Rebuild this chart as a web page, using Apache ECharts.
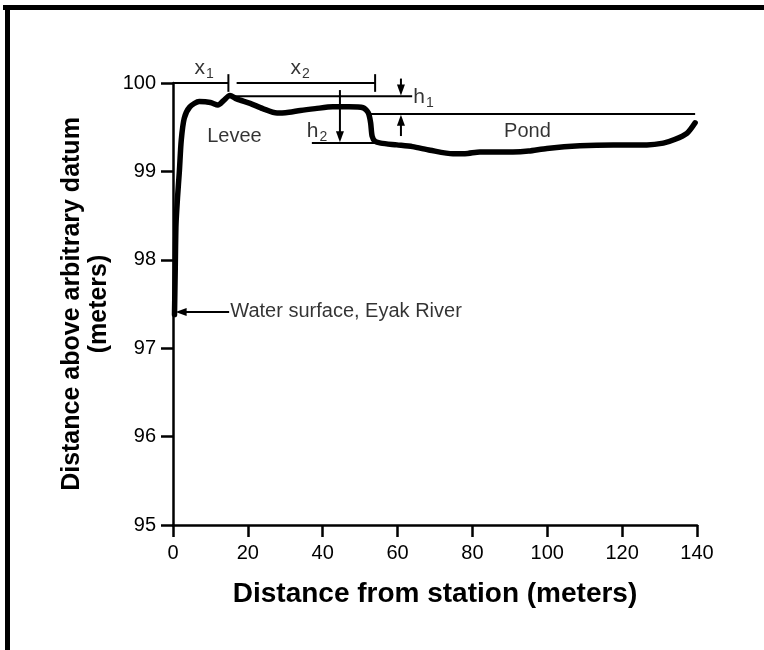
<!DOCTYPE html>
<html>
<head>
<meta charset="utf-8">
<script src="https://cdn.jsdelivr.net/npm/echarts@6/dist/echarts.min.js"></script>
<style>
html,body{margin:0;padding:0;background:#fff;}
#chart{width:764px;height:650px;}
</style>
</head>
<body>
<div id="chart"></div>
<script>
// Profile across the levee (station distance in m, elevation in m)
const stationM = [0.4, 0.6, 0.8, 1.2, 1.7, 2.2, 3.0, 4.5, 7, 10, 12, 13.5, 15.2, 17, 20.6, 24, 27.8, 31, 34, 38, 42.7, 47, 50.8, 52.2, 52.8, 53.2, 54, 55.5, 59.8, 64, 68.7, 74.8, 78, 82, 90.8, 95, 99.9, 108.7, 117.6, 126.6, 131, 134, 137.3, 139.5];
const elevationM = [97.38, 97.9, 98.4, 98.7, 99.0, 99.35, 99.6, 99.73, 99.79, 99.78, 99.75, 99.8, 99.86, 99.82, 99.77, 99.71, 99.66, 99.67, 99.69, 99.71, 99.73, 99.73, 99.72, 99.66, 99.55, 99.40, 99.34, 99.32, 99.30, 99.28, 99.24, 99.20, 99.20, 99.22, 99.22, 99.23, 99.26, 99.29, 99.30, 99.30, 99.32, 99.36, 99.43, 99.55];

// Axis scales
const xMin = 0, xMax = 140, xStep = 20;
const yMin = 95, yMax = 100, yStep = 1;

// Dimension lines [xStart, yStart, xEnd, yEnd]
const dimSegments = [
  [0, 100, 14.8, 100],        // x1
  [14.8, 100.1, 14.8, 99.9],  // x1 end tick
  [17.0, 100, 54.0, 100],     // x2
  [54.0, 100.1, 54.0, 99.9],  // x2 end tick
  [15.5, 99.85, 63.9, 99.85], // h1 reference (levee top)
  [52.6, 99.65, 139.5, 99.65],// pond level
  [37.1, 99.32, 54.0, 99.32], // h2 base
  [44.6, 99.92, 44.6, 99.85]  // small tick above h2 arrow
];
// Arrows [xStart, yStart, xEnd(head), yEnd(head)]
const arrowSegments = [
  [60.9, 100.05, 60.9, 99.86],  // h1 down
  [60.9, 99.40, 60.9, 99.64],   // pond up
  [44.6, 99.86, 44.6, 99.33],   // h2 down
  [15.0, 97.41, 0.7, 97.41]     // water surface
];
// Annotation texts
const labelText = ['{v|x}{s|1}', '{v|x}{s|2}', '{v|h}{s|1}', '{v|h}{s|2}', 'Levee', 'Pond', 'Water surface, Eyak River'];
const labelX = [8.3, 34.0, 64.2, 38.5, 16.4, 94.7, 15.3];
const labelY = [100.17, 100.17, 99.84, 99.45, 99.40, 99.45, 97.42];
const labelAlign = ['center', 'center', 'left', 'center', 'center', 'center', 'left'];

const chart = echarts.init(document.getElementById('chart'), null, {renderer: 'canvas'});
const FONT = '"Liberation Sans", Arial, Helvetica, sans-serif';

const annData = dimSegments.map(s => [s[0], s[1], s[2], s[3], 0])
  .concat(arrowSegments.map(s => [s[0], s[1], s[2], s[3], 1]));

function renderAnnotation(params, api) {
  const p1 = api.coord([api.value(0), api.value(1)]);
  const p2 = api.coord([api.value(2), api.value(3)]);
  const hasArrow = api.value(4) === 1;
  const children = [];
  let end = p2;
  if (hasArrow) {
    const dx = p2[0] - p1[0], dy = p2[1] - p1[1];
    const len = Math.sqrt(dx * dx + dy * dy) || 1;
    const ux = dx / len, uy = dy / len;
    const hl = 11, hw = 4;
    const bx = p2[0] - ux * hl, by = p2[1] - uy * hl;
    end = [p2[0] - ux * (hl - 2), p2[1] - uy * (hl - 2)];
    children.push({
      type: 'polygon',
      shape: {points: [p2, [bx - uy * hw, by + ux * hw], [bx + uy * hw, by - ux * hw]]},
      style: {fill: '#000'}
    });
  }
  children.push({
    type: 'line',
    shape: {x1: p1[0], y1: p1[1], x2: end[0], y2: end[1]},
    style: {stroke: '#000', lineWidth: 2}
  });
  return {type: 'group', children: children};
}

const option = {
  animation: false,
  backgroundColor: '#fff',
  grid: {left: 173, right: 67, top: 83, bottom: 125, containLabel: false},
  xAxis: {
    type: 'value', min: xMin, max: xMax, interval: xStep,
    name: 'Distance from station (meters)',
    nameLocation: 'middle', nameGap: 55,
    nameTextStyle: {fontFamily: FONT, fontWeight: 'bold', fontSize: 28, color: '#000'},
    axisLine: {show: true, lineStyle: {color: '#000', width: 2.5}},
    axisTick: {show: true, length: 12, lineStyle: {color: '#000', width: 2.5}},
    axisLabel: {fontFamily: FONT, fontSize: 20, color: '#000', margin: 18},
    splitLine: {show: false}
  },
  yAxis: {
    type: 'value', min: yMin, max: yMax, interval: yStep,
    name: '{a|Distance above arbitrary datum}\n{b|(meters)}',
    nameLocation: 'middle', nameGap: 54, nameRotate: 90,
    nameTextStyle: {
      fontFamily: FONT, fontWeight: 'bold', color: '#000',
      rich: {
        a: {fontFamily: FONT, fontWeight: 'bold', fontSize: 25, color: '#000', lineHeight: 27},
        b: {fontFamily: FONT, fontWeight: 'bold', fontSize: 25, color: '#000', lineHeight: 27}
      }
    },
    axisLine: {show: true, lineStyle: {color: '#000', width: 2.5}},
    axisTick: {show: true, length: 12, lineStyle: {color: '#000', width: 2.5}},
    axisLabel: {fontFamily: FONT, fontSize: 20, color: '#000', margin: 17},
    splitLine: {show: false}
  },
  graphic: [
    {type: 'rect', shape: {x: 3, y: 5, width: 761, height: 5}, style: {fill: '#000'}, silent: true},
    {type: 'rect', shape: {x: 5, y: 5, width: 5, height: 645}, style: {fill: '#000'}, silent: true}
  ],
  series: [
    {
      type: 'line',
      data: stationM.map((x, i) => [x, elevationM[i]]),
      smooth: 0.25,
      showSymbol: false,
      lineStyle: {color: '#000', width: 5.5, join: 'round', cap: 'round'},
      z: 3
    },
    {
      type: 'custom', silent: true, clip: false,
      renderItem: renderAnnotation,
      encode: {x: [0, 2], y: [1, 3]},
      data: annData,
      z: 4
    },
    {
      type: 'scatter', silent: true, symbolSize: 0, clip: false,
      data: labelText.map((t, i) => ({
        value: [labelX[i], labelY[i]],
        label: {
          show: true, position: 'inside', align: labelAlign[i], verticalAlign: 'middle',
          formatter: t, fontFamily: FONT, fontSize: 20, color: '#000',
          rich: {
            v: {fontFamily: FONT, fontSize: 21, color: '#000'},
            s: {fontFamily: FONT, fontSize: 14, color: '#000', padding: [12, 0, 0, 1]}
          }
        }
      })),
      z: 5
    }
  ]
};
chart.setOption(option);
</script>
</body>
</html>
